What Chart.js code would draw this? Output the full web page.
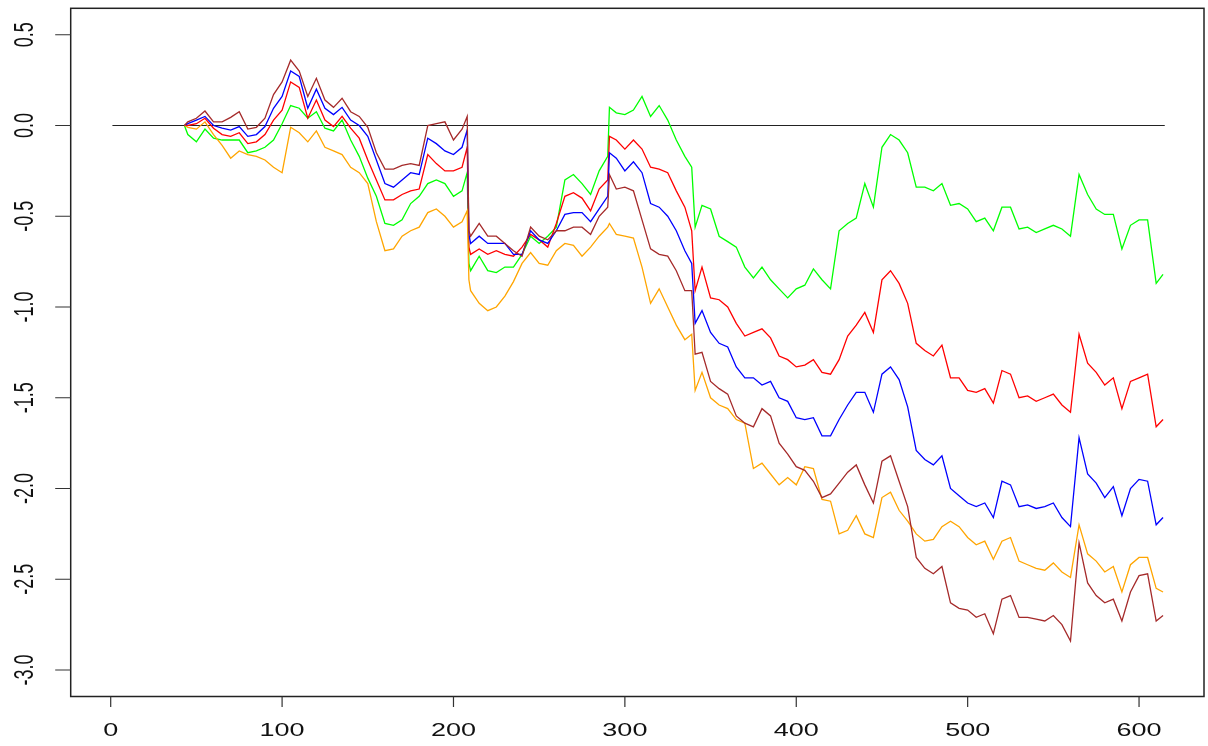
<!DOCTYPE html>
<html>
<head>
<meta charset="utf-8">
<script src="https://cdn.jsdelivr.net/npm/chart.js@4.4.1/dist/chart.umd.min.js"></script>
<style>
  html, body { margin: 0; padding: 0; background: #fff; }
  #wrap { width: 1208px; height: 746px; }
</style>
</head>
<body>
<div id="wrap"><canvas id="chart" width="1208" height="746"></canvas></div>
<script>
// x positions shared by all five series
const xs = [43, 45, 50, 55, 60, 65, 70, 75, 80, 85, 90, 95, 100, 105, 110, 115, 120, 125, 130, 135,
  140, 145, 150, 155, 160, 165, 170, 175, 180, 185, 190, 195, 200, 205, 208, 209, 210, 215, 220, 225,
  230, 235, 240, 245, 250, 255, 260, 265, 270, 275, 280, 285, 290, 291, 295, 300, 305, 310, 315, 320,
  325, 330, 335, 339, 341, 345, 350, 355, 360, 365, 370, 375, 380, 385, 390, 395, 400, 405, 410, 415,
  420, 425, 430, 435, 440, 445, 450, 455, 460, 465, 470, 475, 480, 485, 490, 495, 500, 505, 510, 515,
  520, 525, 530, 535, 540, 545, 550, 555, 560, 565, 570, 575, 580, 585, 590, 595, 600, 605, 610, 614];

const green = [0, -0.05, -0.09, -0.02, -0.07, -0.08, -0.08, -0.08, -0.15, -0.14, -0.12, -0.08, 0.01, 0.11, 0.095, 0.04, 0.076, -0.015, -0.03, 0.03,
  -0.08, -0.17, -0.29, -0.39, -0.54, -0.55, -0.52, -0.43, -0.39, -0.32, -0.3, -0.32, -0.39, -0.36, -0.26, -0.76, -0.8, -0.72, -0.8, -0.81,
  -0.78, -0.78, -0.71, -0.61, -0.65, -0.61, -0.56, -0.3, -0.27, -0.32, -0.38, -0.25, -0.17, 0.1, 0.07, 0.06, 0.085, 0.16, 0.05, 0.11,
  0.03, -0.08, -0.17, -0.23, -0.56, -0.44, -0.46, -0.61, -0.64, -0.67, -0.78, -0.84, -0.78, -0.85, -0.9, -0.95, -0.9, -0.88, -0.79, -0.85,
  -0.9, -0.58, -0.54, -0.51, -0.32, -0.45, -0.12, -0.05, -0.08, -0.15, -0.34, -0.34, -0.36, -0.32, -0.44, -0.43, -0.46, -0.53, -0.51, -0.58,
  -0.45, -0.45, -0.57, -0.56, -0.59, -0.57, -0.55, -0.57, -0.61, -0.27, -0.38, -0.46, -0.49, -0.49, -0.68, -0.55, -0.52, -0.52, -0.87, -0.82];

const red = [0, 0, 0.01, 0.04, -0.015, -0.05, -0.06, -0.04, -0.1, -0.09, -0.05, 0.03, 0.085, 0.24, 0.21, 0.04, 0.14, 0.03, -0.006, 0.05,
  -0.015, -0.07, -0.19, -0.3, -0.41, -0.41, -0.38, -0.36, -0.35, -0.16, -0.21, -0.25, -0.25, -0.23, -0.12, -0.67, -0.71, -0.68, -0.71, -0.69,
  -0.71, -0.72, -0.67, -0.6, -0.63, -0.67, -0.54, -0.39, -0.37, -0.4, -0.47, -0.35, -0.3, -0.06, -0.08, -0.13, -0.08, -0.13, -0.23, -0.24,
  -0.26, -0.36, -0.45, -0.58, -0.91, -0.78, -0.95, -0.96, -1.0, -1.09, -1.16, -1.14, -1.12, -1.17, -1.27, -1.29, -1.33, -1.32, -1.29, -1.36,
  -1.37, -1.29, -1.16, -1.1, -1.03, -1.14, -0.85, -0.8, -0.87, -0.98, -1.2, -1.24, -1.27, -1.21, -1.39, -1.39, -1.46, -1.47, -1.45, -1.53,
  -1.35, -1.37, -1.5, -1.49, -1.52, -1.5, -1.48, -1.54, -1.58, -1.15, -1.31, -1.36, -1.43, -1.39, -1.56, -1.41, -1.39, -1.37, -1.66, -1.62];

const blue = [0, 0.01, 0.03, 0.05, 0, -0.015, -0.025, -0.006, -0.06, -0.05, -0.006, 0.095, 0.16, 0.3, 0.27, 0.095, 0.2, 0.095, 0.06, 0.1,
  0.03, 0, -0.06, -0.19, -0.32, -0.34, -0.3, -0.26, -0.27, -0.07, -0.1, -0.14, -0.16, -0.12, -0.025, -0.6, -0.65, -0.61, -0.65, -0.65,
  -0.65, -0.71, -0.71, -0.58, -0.63, -0.65, -0.58, -0.49, -0.48, -0.48, -0.53, -0.46, -0.39, -0.15, -0.18, -0.25, -0.2, -0.26, -0.43, -0.45,
  -0.5, -0.58, -0.69, -0.76, -1.09, -1.02, -1.14, -1.2, -1.22, -1.33, -1.39, -1.39, -1.43, -1.41, -1.5, -1.52, -1.61, -1.62, -1.61, -1.71,
  -1.71, -1.62, -1.54, -1.47, -1.47, -1.58, -1.37, -1.33, -1.4, -1.55, -1.79, -1.84, -1.87, -1.82, -2.0, -2.04, -2.08, -2.1, -2.08, -2.16,
  -1.96, -1.98, -2.1, -2.09, -2.11, -2.1, -2.08, -2.16, -2.21, -1.72, -1.92, -1.97, -2.05, -1.99, -2.15, -2.0, -1.95, -1.96, -2.2, -2.16];

const brown = [0, 0.02, 0.04, 0.08, 0.02, 0.02, 0.045, 0.076, -0.02, -0.01, 0.04, 0.17, 0.24, 0.36, 0.3, 0.16, 0.26, 0.14, 0.1, 0.15,
  0.076, 0.05, -0.01, -0.15, -0.24, -0.24, -0.22, -0.21, -0.22, 0, 0.01, 0.02, -0.08, -0.02, 0.05, -0.58, -0.61, -0.54, -0.61, -0.61,
  -0.65, -0.69, -0.72, -0.56, -0.61, -0.63, -0.58, -0.58, -0.56, -0.56, -0.6, -0.5, -0.45, -0.27, -0.35, -0.34, -0.36, -0.52, -0.68, -0.71,
  -0.72, -0.8, -0.91, -0.91, -1.26, -1.25, -1.41, -1.45, -1.48, -1.6, -1.64, -1.66, -1.56, -1.6, -1.75, -1.81, -1.88, -1.9, -1.96, -2.05,
  -2.03, -1.97, -1.91, -1.87, -1.98, -2.08, -1.85, -1.82, -1.96, -2.1, -2.38, -2.44, -2.47, -2.43, -2.63, -2.66, -2.67, -2.71, -2.69, -2.8,
  -2.61, -2.59, -2.71, -2.71, -2.72, -2.73, -2.7, -2.75, -2.84, -2.3, -2.52, -2.59, -2.63, -2.61, -2.73, -2.57, -2.48, -2.47, -2.73, -2.7];

const orange = [0, -0.01, -0.02, 0.02, -0.05, -0.11, -0.18, -0.14, -0.16, -0.17, -0.19, -0.23, -0.26, -0.01, -0.04, -0.09, -0.03, -0.12, -0.14, -0.16,
  -0.23, -0.26, -0.32, -0.53, -0.69, -0.68, -0.61, -0.58, -0.56, -0.48, -0.46, -0.5, -0.56, -0.53, -0.47, -0.85, -0.91, -0.98, -1.02, -1.0,
  -0.94, -0.86, -0.76, -0.7, -0.76, -0.77, -0.69, -0.65, -0.66, -0.72, -0.67, -0.61, -0.56, -0.54, -0.6, -0.61, -0.62, -0.78, -0.98, -0.9,
  -1.0, -1.1, -1.18, -1.15, -1.46, -1.36, -1.5, -1.54, -1.56, -1.62, -1.64, -1.89, -1.86, -1.92, -1.98, -1.94, -1.98, -1.88, -1.89, -2.06,
  -2.07, -2.25, -2.23, -2.15, -2.25, -2.27, -2.05, -2.02, -2.12, -2.18, -2.25, -2.29, -2.28, -2.21, -2.18, -2.21, -2.27, -2.31, -2.29, -2.39,
  -2.29, -2.27, -2.4, -2.42, -2.44, -2.45, -2.41, -2.46, -2.49, -2.2, -2.36, -2.4, -2.46, -2.43, -2.57, -2.42, -2.38, -2.38, -2.55, -2.57];

// horizontal reference line at zero
const zeroX = [1, 615];
const zeroY = [0, 0];

// tick labels
const xTicks = [0, 100, 200, 300, 400, 500, 600];
const yTicks = [-3.0, -2.5, -2.0, -1.5, -1.0, -0.5, 0.0, 0.5];

function toPoints(xv, yv) {
    return xv.map((x, i) => ({ x: x, y: yv[i] }));
}

function series(values, color, order) {
    return {
        data: toPoints(xs, values),
        borderColor: color,
        borderWidth: 1.3,
        pointRadius: 0,
        tension: 0,
        fill: false,
        order: order
    };
}

// R-style box, ticks and labels drawn from the chart's own scales
const rAxes = {
    id: 'rAxes',
    afterDraw(chart) {
        const ctx = chart.ctx;
        const a = chart.chartArea;
        const sx = chart.scales.x;
        const sy = chart.scales.y;
        ctx.save();
        ctx.strokeStyle = '#222';
        ctx.lineWidth = 1.5;
        ctx.strokeRect(a.left, a.top, a.right - a.left, a.bottom - a.top);

        ctx.strokeStyle = '#333';
        ctx.lineWidth = 1.2;
        ctx.beginPath();
        xTicks.forEach(v => {
            const px = sx.getPixelForValue(v);
            ctx.moveTo(px, a.bottom);
            ctx.lineTo(px, a.bottom + 10.5);
        });
        yTicks.forEach(v => {
            const py = sy.getPixelForValue(v);
            ctx.moveTo(a.left, py);
            ctx.lineTo(a.left - 15.5, py);
        });
        ctx.stroke();

        ctx.fillStyle = '#111';
        ctx.font = '18px "Liberation Sans", Arial, sans-serif';
        ctx.textAlign = 'center';
        ctx.textBaseline = 'alphabetic';
        xTicks.forEach(v => {
            ctx.save();
            ctx.translate(sx.getPixelForValue(v), 736);
            ctx.scale(1.5, 1);
            ctx.fillText(String(v), 0, 0);
            ctx.restore();
        });
        yTicks.forEach(v => {
            ctx.save();
            ctx.translate(33.3, sy.getPixelForValue(v));
            ctx.scale(1.5, 1);
            ctx.rotate(-Math.PI / 2);
            ctx.fillText(v.toFixed(1), 0, 0);
            ctx.restore();
        });
        ctx.restore();
    }
};

new Chart(document.getElementById('chart').getContext('2d'), {
    type: 'line',
    data: {
        datasets: [
            series(brown, '#A52A2A', 1),
            series(orange, '#FFA500', 2),
            series(blue, '#0000FF', 3),
            series(red, '#FF0000', 4),
            series(green, '#00FF00', 5),
            {
                data: toPoints(zeroX, zeroY),
                borderColor: '#222',
                borderWidth: 1.2,
                pointRadius: 0,
                fill: false,
                order: 6
            }
        ]
    },
    options: {
        responsive: false,
        animation: false,
        devicePixelRatio: 1,
        layout: { padding: { left: 70.7, top: 8.3, right: 4, bottom: 49.5 } },
        scales: {
            x: { type: 'linear', min: -23.34, max: 637.9, display: false },
            y: { type: 'linear', min: -3.146, max: 0.6457, display: false }
        },
        plugins: {
            legend: { display: false },
            tooltip: { enabled: false }
        }
    },
    plugins: [rAxes]
});
</script>
</body>
</html>
